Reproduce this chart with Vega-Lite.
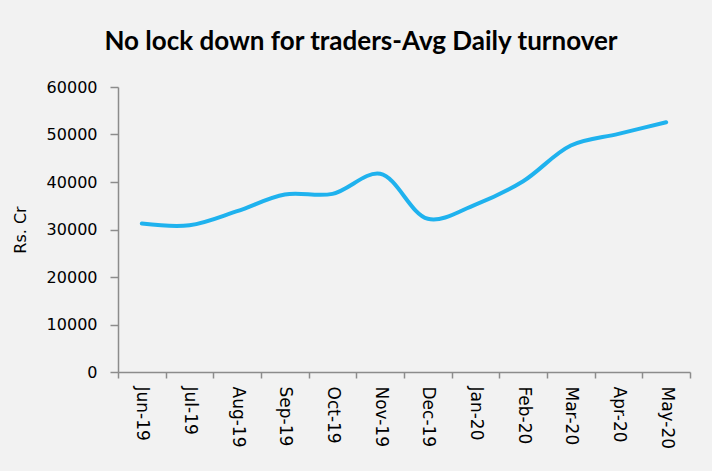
{
  "$schema": "https://vega.github.io/schema/vega-lite/v6.json",
  "autosize": "none",
  "width": 572,
  "height": 285,
  "padding": {"left": 118, "top": 87, "right": 22, "bottom": 99},
  "background": "#f2f2f2",
  "title": {
    "text": "No lock down for traders-Avg Daily turnover",
    "font": "Lato",
    "fontSize": 26,
    "fontWeight": "bold",
    "color": "#000000",
    "anchor": "middle",
    "dx": -43,
    "offset": 24
  },
  "data": {
    "values": [
      {"month": "Jun-19", "turnover": 31270},
      {"month": "Jul-19", "turnover": 30900},
      {"month": "Aug-19", "turnover": 33860},
      {"month": "Sep-19", "turnover": 37370},
      {"month": "Oct-19", "turnover": 37500},
      {"month": "Nov-19", "turnover": 41720},
      {"month": "Dec-19", "turnover": 32250},
      {"month": "Jan-20", "turnover": 35260},
      {"month": "Feb-20", "turnover": 40170},
      {"month": "Mar-20", "turnover": 47680},
      {"month": "Apr-20", "turnover": 50130},
      {"month": "May-20", "turnover": 52580}
    ]
  },
  "mark": {"type": "line", "interpolate": "catmull-rom", "color": "#1fb2ee", "strokeWidth": 4, "strokeCap": "round"},
  "encoding": {
    "x": {
      "field": "month",
      "type": "ordinal",
      "sort": null,
      "bandPosition": 0.5,
      "scale": {"type": "band", "paddingInner": 0, "paddingOuter": 0},
      "axis": {
        "title": null,
        "tickBand": "extent",
        "labelAngle": 90,
        "labelAlign": "left",
        "labelBaseline": "middle",
        "labelFont": "DejaVu Sans",
        "labelFontSize": 17,
        "labelColor": "#000000",
        "labelPadding": 8,
        "tickSize": 6,
        "tickColor": "#8c8c8c",
        "domainColor": "#8c8c8c",
        "domainWidth": 1.5,
        "tickWidth": 1.5,
        "grid": false
      }
    },
    "y": {
      "field": "turnover",
      "type": "quantitative",
      "scale": {"domain": [0, 60000], "nice": false},
      "axis": {
        "title": "Rs. Cr",
        "titleFont": "DejaVu Sans",
        "titleFontSize": 16,
        "titleFontWeight": "normal",
        "titleColor": "#000000",
        "titlePadding": 18,
        "values": [0, 10000, 20000, 30000, 40000, 50000, 60000],
        "format": "d",
        "labelFont": "DejaVu Sans",
        "labelFontSize": 16,
        "labelColor": "#000000",
        "labelPadding": 13,
        "tickSize": 8,
        "tickColor": "#8c8c8c",
        "domainColor": "#8c8c8c",
        "domainWidth": 1.5,
        "tickWidth": 1.5,
        "grid": false
      }
    }
  },
  "config": {"view": {"stroke": null}}
}
